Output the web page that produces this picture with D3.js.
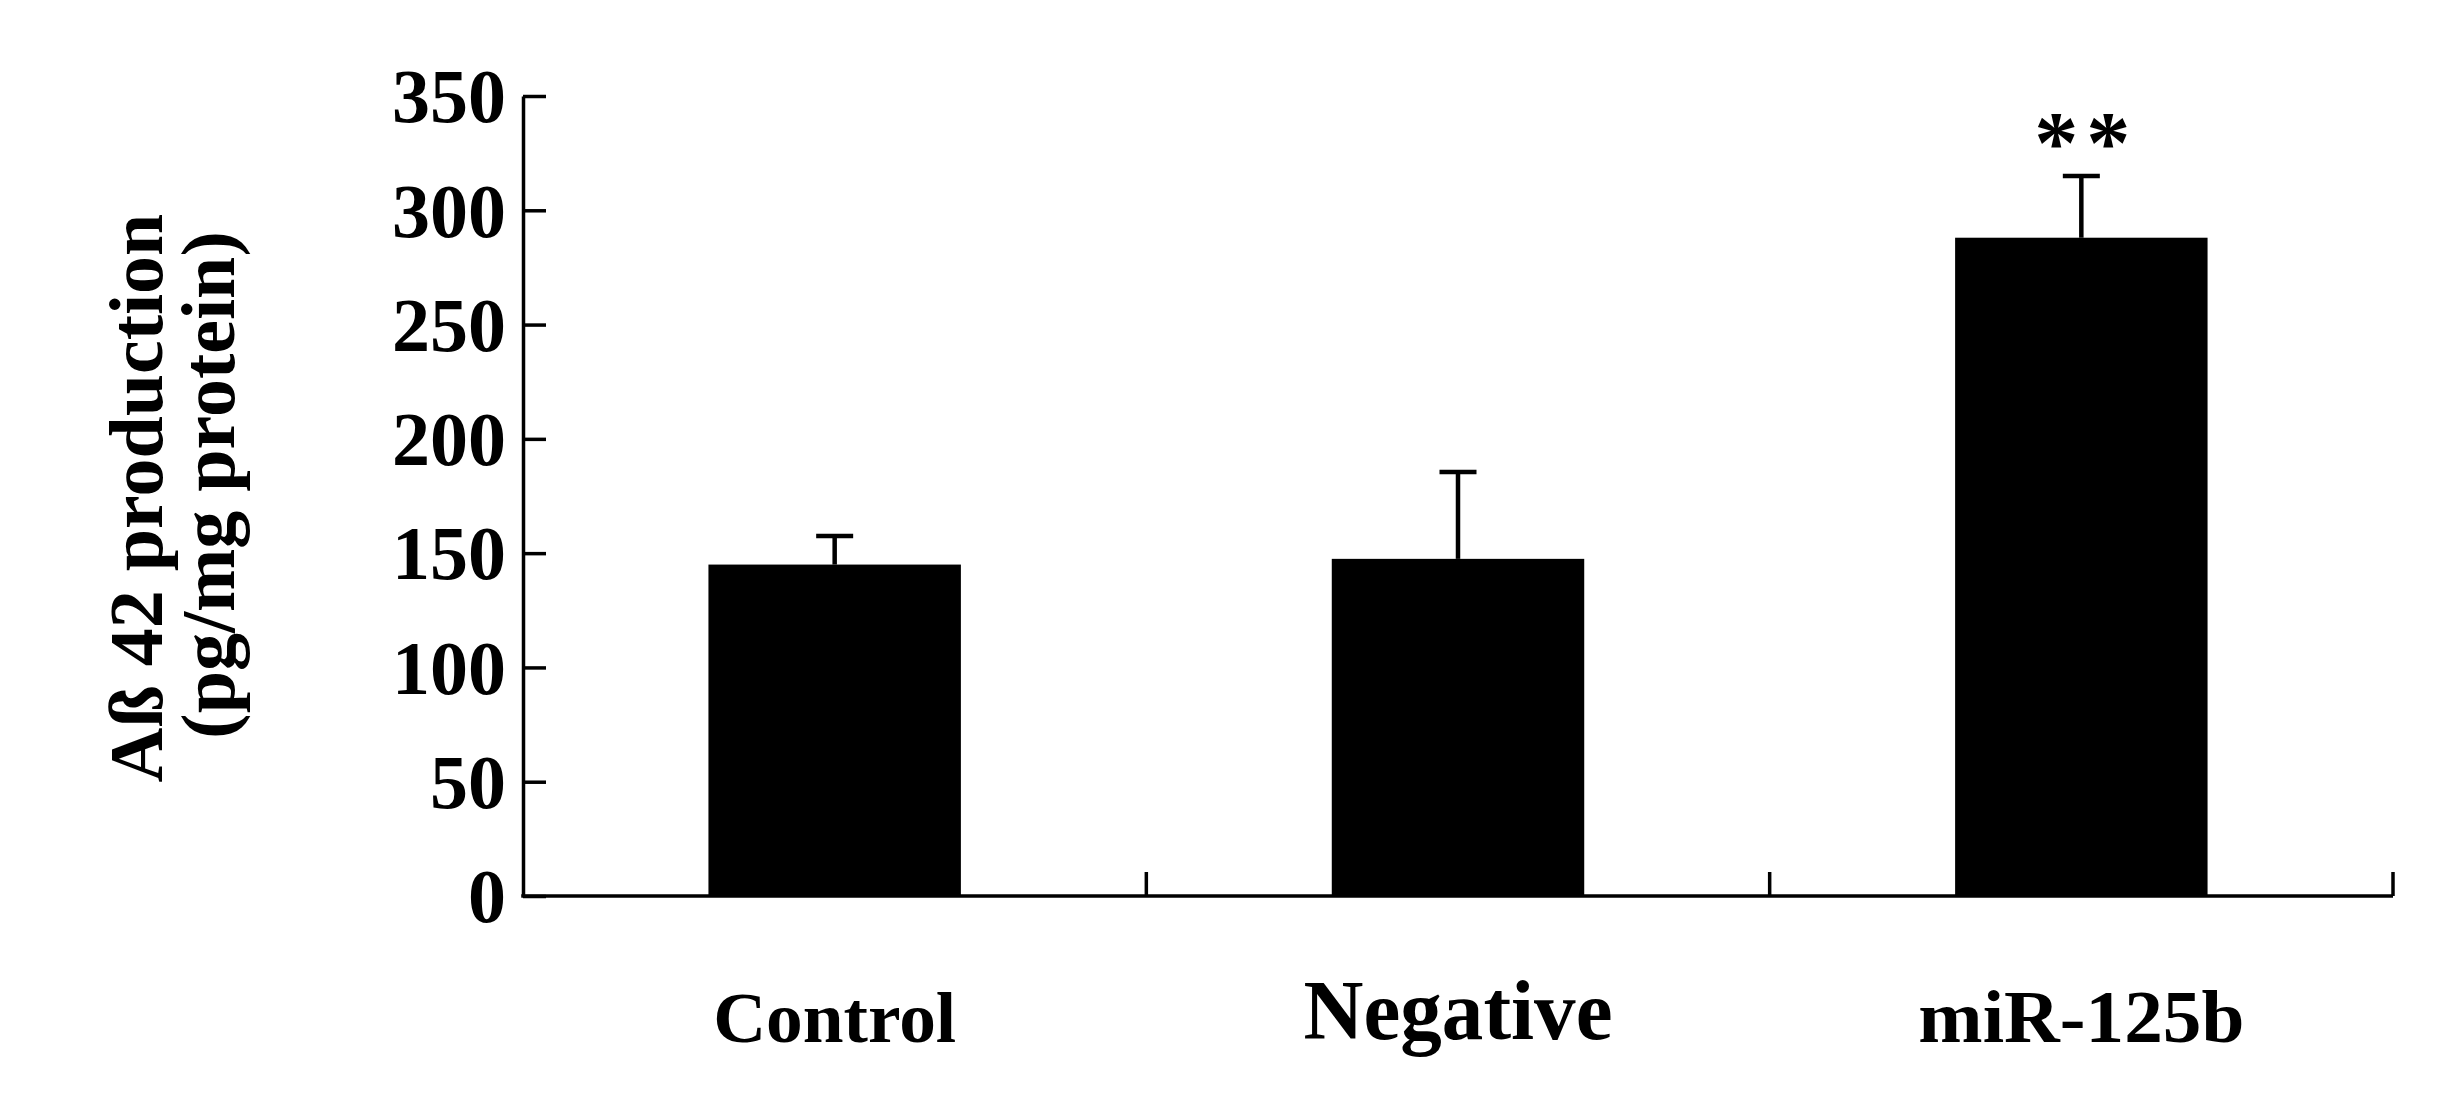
<!DOCTYPE html>
<html><head><meta charset="utf-8">
<script src="https://cdn.jsdelivr.net/npm/d3@7"></script>
<style>html,body{margin:0;padding:0;background:#fff;} svg{display:block;}</style>
</head><body>
<script>
// ---- data ----
const categories = ["Control", "Negative", "miR-125b"];
const values = [145, 147.5, 288];
const errors = [12.5, 38, 27];
const significance = ["", "", "**"];
const yTicks = [0, 50, 100, 150, 200, 250, 300, 350];
const yTitleLines = ["A\u00DF 42 production", "(pg/mg protein)"];

// ---- layout / style ----
const W = 2460, H = 1110;
const FONT = "'Liberation Serif','Times New Roman',Times,serif";
const labelStyle = {
  "Control":  {size: 72, len: 243, base: 1042},
  "Negative": {size: 84, len: 309, base: 1039},
  "miR-125b": {size: 74, len: 326, base: 1042}
};

const svg = d3.select("body").append("svg").attr("width", W).attr("height", H)
  .style("background", "#fff");

const x0 = 523, x1 = 2393, yTop = 96, yBot = 896;
const x = d3.scaleBand().domain(categories).range([x0, x1]).padding(0);
const y = d3.scaleLinear().domain([0, 350]).range([yBot, yTop]);
const barW = x.bandwidth() * 0.405;

const data = categories.map((c, i) => ({c, v: values[i], e: errors[i], s: significance[i]}));

// bars
svg.append("g").selectAll("rect").data(data).join("rect")
  .attr("x", d => x(d.c) + x.bandwidth() / 2 - barW / 2)
  .attr("width", barW)
  .attr("y", d => y(d.v))
  .attr("height", d => y(0) - y(d.v))
  .attr("fill", "#000");

// error bars (upper only)
const eg = svg.append("g").attr("stroke", "#000").attr("stroke-width", 4.5);
eg.selectAll("line.v").data(data).join("line").attr("class", "v")
  .attr("x1", d => x(d.c) + x.bandwidth() / 2).attr("x2", d => x(d.c) + x.bandwidth() / 2)
  .attr("y1", d => y(d.v)).attr("y2", d => y(d.v + d.e));
eg.selectAll("line.cap").data(data).join("line").attr("class", "cap")
  .attr("x1", d => x(d.c) + x.bandwidth() / 2 - 18.5).attr("x2", d => x(d.c) + x.bandwidth() / 2 + 18.5)
  .attr("y1", d => y(d.v + d.e)).attr("y2", d => y(d.v + d.e));

// significance stars
svg.append("g").selectAll("text").data(data.filter(d => d.s)).join("text")
  .attr("x", d => x(d.c) + x.bandwidth() / 2 + 5)
  .attr("y", d => y(d.v + d.e) - 4)
  .attr("text-anchor", "middle")
  .attr("font-family", FONT).attr("font-weight", "bold").attr("font-size", 88)
  .attr("letter-spacing", 8)
  .text(d => d.s);

// y axis
const yAxis = d3.axisLeft(y).tickValues(yTicks).tickSize(-23).tickSizeOuter(0).tickPadding(17);
const gy = svg.append("g").attr("transform", `translate(${x0},0)`).call(yAxis);
gy.select(".domain").attr("stroke", "#000").attr("stroke-width", 3.5);
gy.selectAll(".tick line").attr("stroke", "#000").attr("stroke-width", 3.5);
gy.selectAll(".tick text").attr("font-family", FONT).attr("font-weight", "bold")
  .attr("font-size", 76).attr("fill", "#000").attr("dy", "0.34em");

// x axis line + boundary ticks
const xg = svg.append("g").attr("stroke", "#000").attr("stroke-width", 3.5);
xg.append("line").attr("x1", x0 - 1.75).attr("x2", x1).attr("y1", y(0)).attr("y2", y(0));
xg.selectAll("line.t").data(categories).join("line").attr("class", "t")
  .attr("x1", c => x(c) + x.bandwidth()).attr("x2", c => x(c) + x.bandwidth())
  .attr("y1", y(0)).attr("y2", y(0) - 24);

// category labels
svg.append("g").selectAll("text").data(categories).join("text")
  .attr("x", c => x(c) + x.bandwidth() / 2)
  .attr("y", c => labelStyle[c].base)
  .attr("text-anchor", "middle")
  .attr("font-family", FONT).attr("font-weight", "bold")
  .attr("font-size", c => labelStyle[c].size)
  .attr("textLength", c => labelStyle[c].len)
  .attr("lengthAdjust", "spacingAndGlyphs")
  .text(c => c);

// y title
const titleX = [162, 234];
const titleY = [498, 485];
svg.append("g").selectAll("text").data(yTitleLines).join("text")
  .attr("transform", (t, i) => `translate(${titleX[i]},${titleY[i]}) rotate(-90)`)
  .attr("text-anchor", "middle")
  .attr("font-family", FONT).attr("font-weight", "bold").attr("font-size", 76)
  .text(t => t);
</script>
</body></html>
